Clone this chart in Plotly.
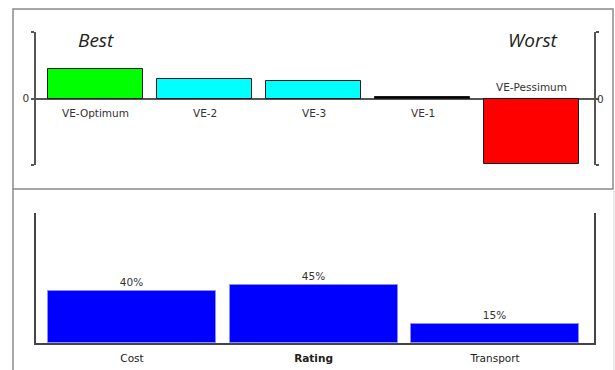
import plotly.graph_objects as go

# ---- data ----
ve_names = ["VE-Optimum", "VE-2", "VE-3", "VE-1", "VE-Pessimum"]
ve_values = [0.44, 0.29, 0.26, 0.03, -0.98]
ve_colors = ["#00ff00", "#00ffff", "#00ffff", "#000000", "#ff0000"]

crit_names = ["Cost", "Rating", "Transport"]
crit_labels = ["Cost", "<b>Rating</b>", "Transport"]
crit_weights = [0.40, 0.45, 0.15]

FONT = "DejaVu Sans"
W, H = 615, 370

def px_x(p):
    return p / W

def px_y(p):
    return 1 - p / H

fig = go.Figure()

fig.add_trace(go.Bar(
    x=ve_names, y=ve_values, xaxis="x", yaxis="y",
    marker=dict(color=ve_colors, line=dict(color="#1a1a1a", width=1)),
    width=0.87, showlegend=False, hoverinfo="x+y",
))

fig.add_trace(go.Bar(
    x=crit_names, y=crit_weights, xaxis="x2", yaxis="y2",
    marker=dict(color="#0000ff", line=dict(color="#8c8cff", width=1)),
    width=0.926, showlegend=False,
    texttemplate="%{y:.0%}", textposition="outside", cliponaxis=False,
    textfont=dict(family=FONT, size=10.5, color="#333333"),
))

# category labels for the top chart, on the opposite side of each bar
annotations = []
for name, val in zip(ve_names, ve_values):
    annotations.append(dict(
        x=name, y=0, xref="x", yref="y", text=name, showarrow=False,
        yanchor="middle", yshift=(-14 if val >= 0 else 12),
        font=dict(family=FONT, size=10.5, color="#333333"),
    ))

annotations.append(dict(x=px_x(595), y=0, xref="paper", yref="y", text="0",
                        showarrow=False, xanchor="left",
                        font=dict(family=FONT, size=10.5, color="#333333")))
annotations.append(dict(x=px_x(96), y=px_y(40), xref="paper", yref="paper",
                        xanchor="center", yanchor="middle",
                        text="<i>Best</i>", showarrow=False,
                        font=dict(family="Open Sans", size=19, color="#222222")))
annotations.append(dict(x=px_x(533), y=px_y(40), xref="paper", yref="paper",
                        xanchor="center", yanchor="middle",
                        text="<i>Worst</i>", showarrow=False,
                        font=dict(family="Open Sans", size=19, color="#222222")))

shapes = [
    # top panel frame
    dict(type="rect", xref="paper", yref="paper",
         x0=px_x(13), x1=px_x(613), y0=px_y(189), y1=px_y(9),
         line=dict(color="#8a8a8a", width=1.5)),
    # bottom panel side borders
    dict(type="line", xref="paper", yref="paper",
         x0=px_x(13), x1=px_x(13), y0=0, y1=px_y(189),
         line=dict(color="#8a8a8a", width=1.5)),
    dict(type="line", xref="paper", yref="paper",
         x0=px_x(614), x1=px_x(614), y0=0, y1=px_y(189),
         line=dict(color="#d5d5d5", width=1)),
]

fig.update_layout(
    width=W, height=H,
    margin=dict(l=0, r=0, t=0, b=0),
    paper_bgcolor="white", plot_bgcolor="white",
    bargap=0,
    xaxis=dict(domain=[px_x(36), px_x(594)], anchor="y",
               range=[-0.546, 4.573], showticklabels=False,
               showline=False, showgrid=False, zeroline=False, ticks=""),
    yaxis=dict(domain=[px_y(165), px_y(32)], anchor="x",
               range=[-1, 1], showgrid=False,
               zeroline=True, zerolinecolor="#555555", zerolinewidth=1.5,
               showline=True, linecolor="#555555", linewidth=1.5,
               mirror="ticks", ticks="outside", ticklen=3, tickwidth=1.5,
               tickcolor="#555555",
               tickvals=[-1, 0, 1], ticktext=["", "0", ""],
               tickfont=dict(family=FONT, size=10.5, color="#333333")),
    xaxis2=dict(domain=[px_x(36), px_x(594)], anchor="y2",
                range=[-0.529, 2.545], showgrid=False, zeroline=False,
                showline=True, linecolor="#444444", linewidth=1.5,
                ticks="", tickvals=crit_names, ticktext=crit_labels,
                ticklabelstandoff=5,
                tickfont=dict(family=FONT, size=10.5, color="#222222")),
    yaxis2=dict(domain=[px_y(343), px_y(213)], anchor="x2",
                range=[0, 1], showgrid=False, zeroline=False,
                showline=True, linecolor="#444444", linewidth=1.5,
                mirror=True, showticklabels=False, ticks=""),
    annotations=annotations,
    shapes=shapes,
)

fig.write_html("out.html")
